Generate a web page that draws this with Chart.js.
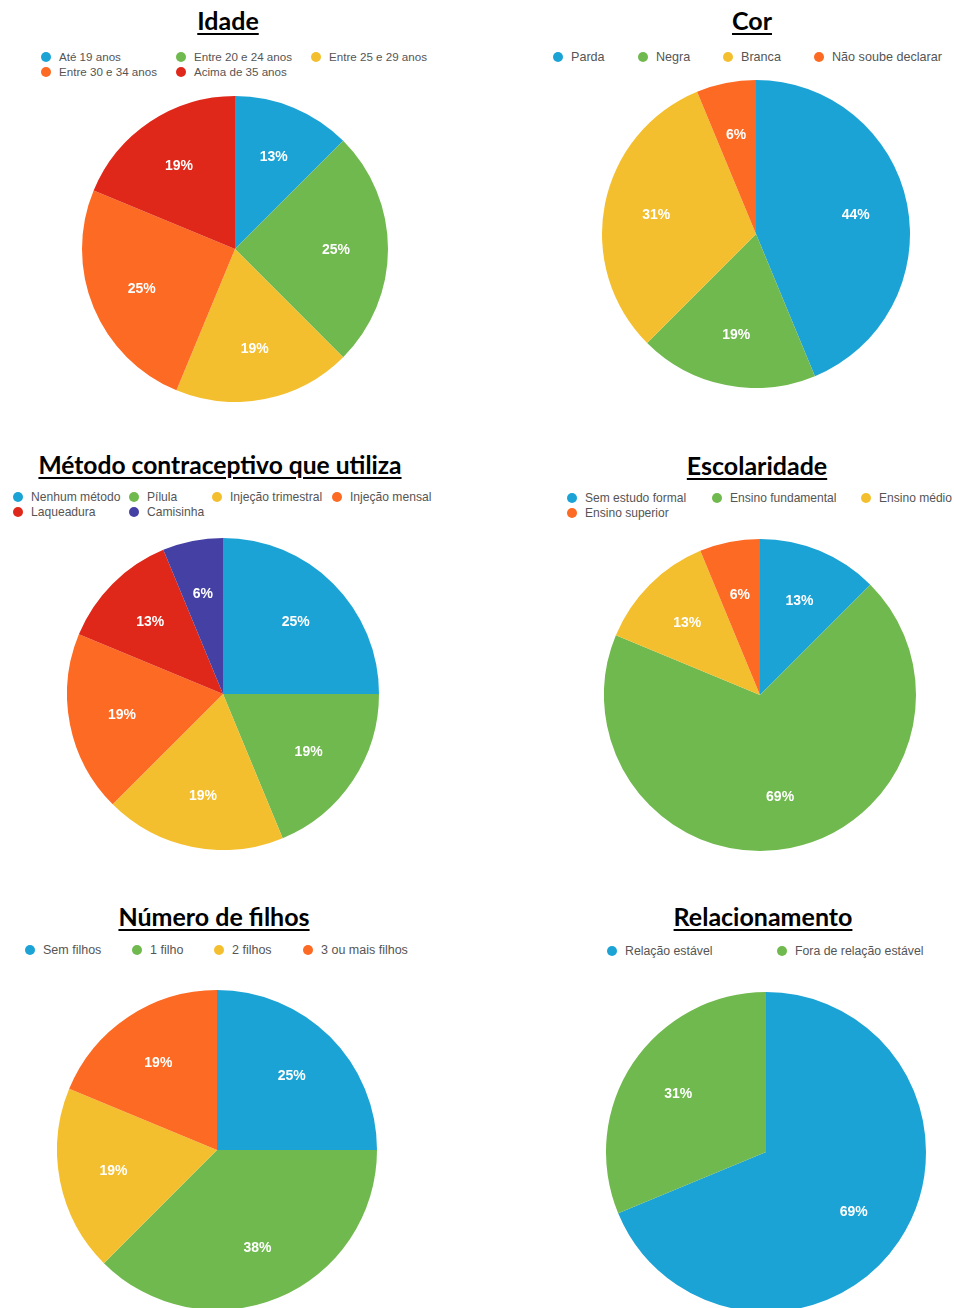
<!DOCTYPE html>
<html>
<head>
<meta charset="utf-8">
<script src="https://cdn.jsdelivr.net/npm/chart.js@4"></script>
<style>
  html, body { margin: 0; padding: 0; background: #fff; }
  body { width: 954px; height: 1308px; position: relative; overflow: hidden; }
  .title {
    position: absolute; transform: translate(-50%, -50%);
    font-family: Lato, "Open Sans", sans-serif; font-weight: 700; font-size: 25px;
    color: #000; white-space: nowrap; line-height: 30px;
    text-decoration: underline; text-decoration-thickness: 2px; text-underline-offset: 3px;
  }
  .leg {
    position: absolute; font-family: "Liberation Sans", Arial, sans-serif; font-size: 11.6px;
    color: #555; white-space: nowrap; line-height: 14px; transform: translateY(-50%);
  }
  .leg i {
    position: absolute; left: -18px; top: 2px; width: 10px; height: 10px; border-radius: 50%;
  }
  canvas { position: absolute; }
</style>
</head>
<body>
<script>
// colours used by the original slides
const BLUE = '#1ca3d6', GREEN = '#70b94e', YELLOW = '#f4bf2f',
      ORANGE = '#fc6a23', RED = '#e0281a', PURPLE = '#4540a3';

// 16 respondents in each chart
const idadeLabels = ['Até 19 anos', 'Entre 20 e 24 anos', 'Entre 25 e 29 anos', 'Entre 30 e 34 anos', 'Acima de 35 anos'];
const idadeValues = [2, 4, 3, 4, 3];

const corLabels = ['Parda', 'Negra', 'Branca', 'Não soube declarar'];
const corValues = [7, 3, 5, 1];

const metodoLabels = ['Nenhum método', 'Pílula', 'Injeção trimestral', 'Injeção mensal', 'Laqueadura', 'Camisinha'];
const metodoValues = [4, 3, 3, 3, 2, 1];

const escolaridadeLabels = ['Sem estudo formal', 'Ensino fundamental', 'Ensino médio', 'Ensino superior'];
const escolaridadeValues = [2, 11, 2, 1];

const filhosLabels = ['Sem filhos', '1 filho', '2 filhos', '3 ou mais filhos'];
const filhosValues = [4, 6, 3, 3];

const relacionamentoLabels = ['Relação estável', 'Fora de relação estável'];
const relacionamentoValues = [11, 5];

const charts = [
  {title: 'Idade', labels: idadeLabels, values: idadeValues,
   colors: [BLUE, GREEN, YELLOW, ORANGE, RED], legFont: 11.6,
   titlePos: [228, 20], cx: 235, cy: 249, r: 153, legX: [46, 181, 316], legY: [57, 72]},
  {title: 'Cor', labels: corLabels, values: corValues,
   colors: [BLUE, GREEN, YELLOW, ORANGE], legFont: 12.6,
   titlePos: [752, 20], cx: 755.5, cy: 233.5, r: 154, legX: [558, 643, 728, 819], legY: [57]},
  {title: 'Método contraceptivo que utiliza', labels: metodoLabels, values: metodoValues,
   colors: [BLUE, GREEN, YELLOW, ORANGE, RED, PURPLE], legFont: 12.1, titleFont: 24.6,
   titlePos: [220, 465], cx: 222.5, cy: 693.5, r: 156, legX: [18, 134, 217, 337], legY: [497, 512]},
  {title: 'Escolaridade', labels: escolaridadeLabels, values: escolaridadeValues,
   colors: [BLUE, GREEN, YELLOW, ORANGE], legFont: 12.05,
   titlePos: [757, 465], cx: 760, cy: 694.5, r: 156, legX: [572, 717, 866], legY: [498, 513]},
  {title: 'Número de filhos', labels: filhosLabels, values: filhosValues,
   colors: [BLUE, GREEN, YELLOW, ORANGE], legFont: 12.5,
   titlePos: [214, 916], cx: 217, cy: 1150, r: 160, legX: [30, 137, 219, 308], legY: [950]},
  {title: 'Relacionamento', labels: relacionamentoLabels, values: relacionamentoValues,
   colors: [BLUE, GREEN], legFont: 12.3,
   titlePos: [763, 916], cx: 766, cy: 1152, r: 160, legX: [612, 782], legY: [951]}
];

// white percentage text in the middle of every slice
const sliceLabels = {
  id: 'sliceLabels',
  afterDatasetsDraw(chart) {
    const ctx = chart.ctx;
    const data = chart.data.datasets[0].data;
    const total = data.reduce((a, b) => a + b, 0);
    const meta = chart.getDatasetMeta(0);
    ctx.save();
    ctx.fillStyle = '#fff';
    ctx.font = 'bold 14px "Liberation Sans", Arial, sans-serif';
    ctx.textAlign = 'center';
    ctx.textBaseline = 'middle';
    meta.data.forEach((arc, i) => {
      const p = arc.getProps(['x', 'y', 'startAngle', 'endAngle', 'outerRadius'], true);
      const mid = (p.startAngle + p.endAngle) / 2;
      const d = p.outerRadius * 0.66;
      const pct = Math.round(data[i] / total * 100) + '%';
      ctx.fillText(pct, p.x + Math.cos(mid) * d, p.y + Math.sin(mid) * d + 1);
    });
    ctx.restore();
  }
};

charts.forEach(c => {
  const t = document.createElement('div');
  t.className = 'title';
  t.textContent = c.title;
  t.style.left = c.titlePos[0] + 'px';
  t.style.top = c.titlePos[1] + 'px';
  if (c.titleFont) t.style.fontSize = c.titleFont + 'px';
  document.body.appendChild(t);

  c.labels.forEach((lab, i) => {
    const row = Math.floor(i / c.legX.length), col = i % c.legX.length;
    const el = document.createElement('div');
    el.className = 'leg';
    el.style.left = (c.legX[col] + 13) + 'px';
    el.style.top = c.legY[row] + 'px';
    el.style.fontSize = c.legFont + 'px';
    el.innerHTML = '<i style="background:' + c.colors[i] + '"></i>';
    el.appendChild(document.createTextNode(lab));
    document.body.appendChild(el);
  });

  const wrap = document.createElement('div');
  const size = c.r * 2;
  wrap.style.cssText = 'position:absolute;left:' + (c.cx - c.r) + 'px;top:' + (c.cy - c.r) +
    'px;width:' + size + 'px;height:' + size + 'px;';
  const cv = document.createElement('canvas');
  wrap.appendChild(cv);
  document.body.appendChild(wrap);

  new Chart(cv.getContext('2d'), {
    type: 'pie',
    data: {
      labels: c.labels,
      datasets: [{
        data: c.values,
        backgroundColor: c.colors,
        borderWidth: 0
      }]
    },
    options: {
      responsive: true,
      maintainAspectRatio: false,
      animation: false,
      layout: {padding: 0},
      plugins: {
        legend: {display: false},
        tooltip: {enabled: false}
      }
    },
    plugins: [sliceLabels]
  });
});
</script>
</body>
</html>
